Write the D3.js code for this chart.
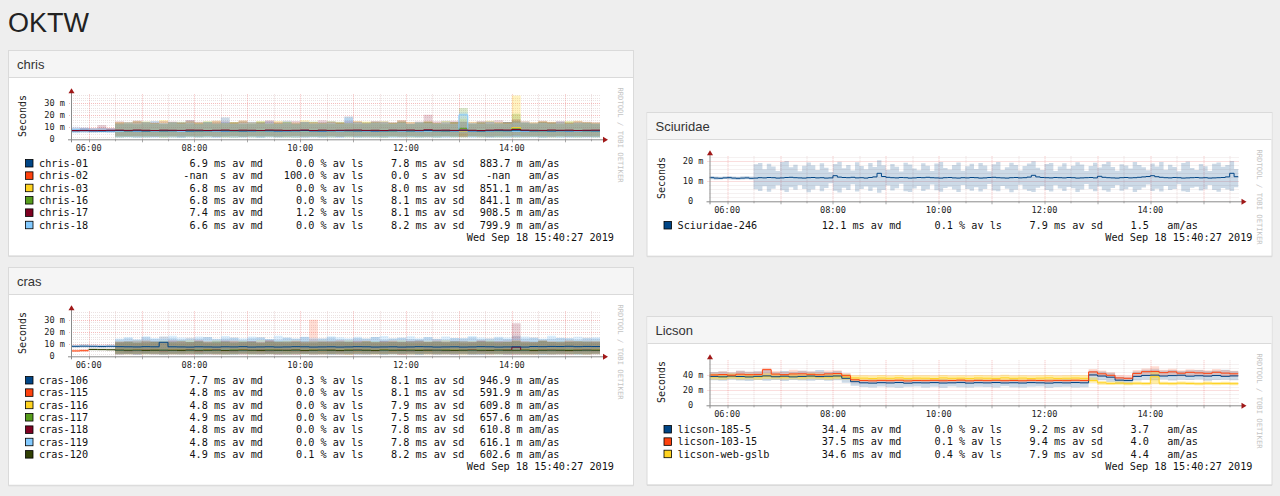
<!DOCTYPE html>
<html><head><meta charset="utf-8">
<script src="https://cdn.jsdelivr.net/npm/d3@7"></script>
<style>
html,body{margin:0;padding:0;background:#eeeeee;}
svg{display:block;}
text{font-family:"DejaVu Sans Mono",monospace;}
</style></head><body>
<svg id="c" width="1280" height="496"></svg>
<script>
// ---------------- DATA ----------------
const pageTitle = "OKTW";
const graphDate = "Wed Sep 18 15:40:27 2019";
const palette = ["#004586","#ff420e","#ffd320","#579d1c","#7e0021","#83caff","#314004"];
const xTickLabels = ["06:00","08:00","10:00","12:00","14:00"];

// chris
const chrisHosts = ["chris-01","chris-02","chris-03","chris-16","chris-17","chris-18"];
const chrisMedAvg = [6.9, NaN, 6.8, 6.8, 7.4, 6.6];
const chrisLossAvg = [0.0, 100.0, 0.0, 0.0, 1.2, 0.0];
const chrisSdAvg = [7.8, 0.0, 8.0, 8.1, 8.1, 8.2];
const chrisAmAs = [0.8837, NaN, 0.8511, 0.8411, 0.9085, 0.7999];
const chrisYTicks = [0,10,20,30];
const chrisYLabels = ["0","10 m","20 m","30 m"];

const chris01Med = [7.0,7.1,7.0,6.9,7.0, 7.2,6.9,7.0,6.8,7.1, 6.9,7.0,7.2,6.8,6.9, 7.0,7.1,6.9,7.0,6.8, 6.9,7.1,7.0,6.8,6.9, 7.0,7.2,6.9,6.8,7.0, 7.1,7.0,6.9,7.0,6.8, 6.9,7.0,7.1,6.9,7.0, 7.2,7.0,6.9,7.0,7.3, 6.9,6.8,7.0,7.1,7.0, 7.4,7.1,6.9,7.0,6.8, 7.0,6.9,7.1,7.0,6.9];
const chris01Lo = [5.5,5.8,5.6,5.7,5.5, 2.0,1.8,2.2,1.6,2.0, 1.9,2.3,1.7,2.0,1.8, 2.1,1.6,1.9,2.2,1.8, 2.0,1.7,2.1,1.9,1.6, 2.2,2.0,1.8,1.9,2.1, 1.7,2.0,1.8,2.2,1.9, 1.6,2.0,2.1,1.8,1.9, 2.0,1.7,2.2,1.9,1.8, 2.0,2.1,1.7,1.9,2.0, 1.8,2.2,1.9,1.7,2.0, 2.1,1.8,1.9,2.0,1.8];
const chris01Hi = [8.8,9.2,9.0,9.4,9.1, 13.5,12.8,14.6,13.2,15.1, 12.9,14.0,13.6,15.4,12.7, 14.2,13.8,17.8,13.1,14.5, 12.6,13.9,14.8,13.0,15.2, 13.4,14.1,12.8,13.7,15.0, 13.3,18.6,14.2,12.9,13.8, 14.6,13.1,14.9,12.7,13.6, 14.4,13.2,15.3,13.9,14.1, 12.8,13.5,14.7,13.0,14.2, 15.0,13.6,12.9,14.3,13.8, 14.5,13.1,14.0,13.4,12.9];

const chris03Med = [null,null,null,null,null, 6.9,6.7,6.8,6.6,6.9, 6.8,6.7,7.0,6.8,6.6, 6.9,6.8,6.7,6.9,6.8, 6.6,6.8,6.9,6.7,6.8, 7.0,6.8,6.6,6.9,6.7, 6.8,6.9,6.8,6.7,6.6, 6.8,6.9,7.0,6.8,6.7, 6.9,6.8,6.7,6.8,6.9, 6.7,6.8,6.6,6.9,6.8, 9.5,6.9,6.7,6.8,6.9, 6.8,6.7,6.9,6.8,6.7];
const chris03Lo = [null,null,null,null,null, 2.6,2.4,2.8,2.5,2.7, 2.3,2.6,2.9,2.4,2.5, 2.7,2.6,2.3,2.8,2.5, 2.4,2.7,2.6,2.5,2.3, 2.8,2.6,2.4,2.7,2.5, 2.6,2.3,2.8,2.5,2.4, 2.7,2.6,2.5,2.8,2.4, 2.6,2.5,2.7,2.3,2.6, 2.8,2.5,2.4,2.6,2.7, 3.5,2.6,2.5,2.7,2.4, 2.6,2.8,2.5,2.4,2.6];
const chris03Hi = [null,null,null,null,null, 14.2,13.6,15.0,14.4,13.1, 15.8,14.0,13.5,14.9,13.8, 14.6,15.2,13.4,14.1,15.5, 13.9,14.7,13.2,15.0,14.3, 13.7,15.6,14.2,13.5,14.8, 14.0,13.3,15.1,14.5,13.8, 14.9,13.6,15.4,14.2,13.9, 14.7,13.5,15.0,14.1,16.8, 14.4,13.8,15.2,14.0,13.6, 36.0,14.5,13.9,15.1,14.3, 13.7,14.8,15.3,14.0,13.8];

const chris16Med = [null,null,null,null,null, 6.8,6.9,6.7,6.8,6.6, 6.9,6.8,6.7,6.9,6.8, 6.7,6.8,6.9,6.6,6.8, 6.9,6.7,6.8,6.8,6.9, 6.7,6.8,6.6,6.9,6.8, 6.7,6.9,6.8,6.7,6.8, 6.9,6.6,6.8,6.7,6.9, 6.8,6.7,6.8,6.9,9.0, 6.8,6.7,6.9,6.8,6.7, 8.5,6.8,6.9,6.7,6.8, 6.9,6.7,6.8,6.8,6.7];
const chris16Lo = [null,null,null,null,null, 1.5,1.8,1.4,1.6,1.9, 1.3,1.7,1.5,1.8,1.4, 1.6,1.9,1.5,1.3,1.7, 1.6,1.4,1.8,1.5,1.7, 1.3,1.6,1.9,1.4,1.5, 1.8,1.6,1.4,1.7,1.5, 1.3,1.8,1.6,1.5,1.4, 1.7,1.5,1.9,1.6,1.4, 1.8,1.5,1.6,1.4,1.7, 1.5,1.6,1.8,1.4,1.5, 1.7,1.6,1.4,1.8,1.5];
const chris16Hi = [null,null,null,null,null, 12.8,13.9,12.4,14.6,13.2, 12.6,13.8,14.4,12.9,13.5, 14.8,12.7,13.3,14.1,12.5, 13.6,14.9,12.8,13.4,14.2, 12.6,13.7,14.5,13.0,12.8, 14.3,13.1,12.7,13.9,14.6, 12.9,13.5,14.0,12.6,13.8, 14.4,13.2,12.8,14.1,25.7, 13.0,14.3,12.7,13.6,14.2, 21.0,13.4,12.9,14.0,13.5, 12.8,14.6,13.1,13.7,12.9];

const chris17Med = [7.2,7.3,7.1,7.2,7.4, 7.5,7.3,7.6,7.4,7.2, 7.5,7.4,7.3,7.6,7.5, 7.2,7.4,7.6,7.3,7.5, 7.4,7.2,7.6,7.5,7.3, 7.4,7.6,7.2,7.5,7.3, 7.4,7.5,7.6,7.3,7.4, 7.2,7.5,7.4,7.6,7.3, 7.8,7.4,7.5,7.3,7.6, 7.4,7.2,7.5,7.7,7.6, 8.0,7.5,7.4,7.3,7.6, 7.4,7.5,7.2,7.4,7.5];
const chris17Lo = [6.0,6.2,5.9,6.1,6.0, 2.2,2.5,2.0,2.4,2.1, 2.6,2.3,2.0,2.5,2.2, 2.4,2.1,2.6,2.3,2.0, 2.5,2.2,2.4,2.1,2.6, 2.3,2.0,2.5,2.2,2.4, 2.1,2.6,2.3,2.0,2.5, 2.2,2.4,2.1,2.6,2.3, 2.0,2.5,2.2,2.4,2.1, 2.6,2.3,2.0,2.5,2.2, 2.4,2.1,2.6,2.3,2.0, 2.5,2.2,2.4,2.1,2.3];
const chris17Hi = [8.9,9.3,9.1,11.8,9.2, 14.8,13.9,15.5,14.2,13.6, 15.1,14.5,13.8,15.9,14.3, 13.7,15.2,14.6,13.9,15.4, 14.1,13.8,15.7,14.4,13.6, 15.0,14.3,13.9,15.6,14.2, 13.8,15.3,14.7,13.5,15.1, 14.4,13.9,15.8,14.0,14.6, 20.2,14.8,13.7,15.2,14.5, 13.9,15.0,14.3,15.6,14.1, 16.5,14.7,13.8,15.3,14.2, 14.9,13.6,15.1,14.4,13.9];

const chris18Med = [7.8,7.6,6.5,6.4,6.6, 6.5,6.7,6.4,6.6,6.5, 6.7,6.6,6.4,6.5,6.7, 6.6,6.5,6.4,6.7,6.6, 6.5,6.7,6.6,6.4,6.5, 6.6,6.7,6.5,6.4,6.6, 6.5,6.7,6.6,6.5,6.4, 6.6,6.7,6.5,6.6,6.4, 6.5,6.6,6.7,6.5,20.0, 6.4,6.6,6.5,6.7,6.6, 6.5,6.4,6.6,6.7,6.5, 6.6,6.4,6.5,6.7,6.6];
const chris18Lo = [5.0,5.3,5.5,5.6,5.4, 1.2,1.5,1.1,1.4,1.3, 1.6,1.2,1.0,1.5,1.3, 1.4,1.1,1.6,1.2,1.3, 1.5,1.1,1.4,1.2,1.6, 1.3,1.0,1.5,1.2,1.4, 1.1,1.6,1.3,1.2,1.5, 1.4,1.1,1.3,1.6,1.2, 1.5,1.3,1.1,1.4,5.0, 1.2,1.6,1.3,1.4,1.1, 1.5,1.2,1.4,1.3,1.6, 1.1,1.3,1.5,1.2,1.4];
const chris18Hi = [10.2,9.8,8.6,8.8,8.5, 12.4,13.6,12.9,14.2,12.6, 13.3,14.0,12.8,13.5,12.3, 14.1,12.7,13.9,12.5,13.2, 14.4,12.9,13.4,12.6,13.8, 12.4,14.3,13.0,12.8,13.6, 12.5,17.5,13.7,12.9,13.3, 14.0,12.6,13.5,12.8,14.2, 13.1,12.7,13.9,12.5,22.0, 13.4,12.8,14.1,13.0,12.6, 13.7,14.4,12.9,13.3,12.7, 13.8,12.5,13.6,13.1,12.8];

// cras
const crasHosts = ["cras-106","cras-115","cras-116","cras-117","cras-118","cras-119","cras-120"];
const crasMedAvg = [7.7, 4.8, 4.8, 4.9, 4.8, 4.8, 4.9];
const crasLossAvg = [0.3, 0.0, 0.0, 0.0, 0.0, 0.0, 0.1];
const crasSdAvg = [8.1, 8.1, 7.9, 7.5, 7.8, 7.8, 8.2];
const crasAmAs = [0.9469, 0.5919, 0.6098, 0.6576, 0.6108, 0.6161, 0.6026];

const cras106Med = [8.2,8.3,8.2,8.1,8.2, 7.9,7.8,7.7,7.9,7.8, 11.5,7.8,7.7,7.6,7.8, 7.7,7.6,7.8,7.7,7.9, 7.6,7.7,7.8,7.6,7.7, 7.9,7.8,7.6,7.7,7.8, 7.6,7.7,7.9,7.8,7.6, 7.7,7.8,7.6,7.7,7.9, 7.8,7.6,7.7,7.8,7.6, 7.7,7.9,7.8,7.6,7.7, 7.8,7.6,8.0,7.9,8.1, 8.0,8.2,7.9,8.1,8.0];
const cras106Lo = [7.0,7.2,7.1,6.9,7.0, 3.0,2.6,3.2,2.8,3.1, 2.7,3.0,2.9,3.3,2.6, 3.1,2.8,3.0,2.7,3.2, 2.9,3.1,2.6,3.0,2.8, 3.2,2.7,2.9,3.1,2.6, 3.0,2.8,3.2,2.7,3.1, 2.9,3.0,2.6,3.2,2.8, 3.1,2.7,3.0,2.9,3.3, 2.6,3.1,2.8,3.0,2.7, 3.2,2.9,3.1,3.0,3.4, 3.2,3.5,3.1,3.3,3.2];
const cras106Hi = [9.5,9.8,9.6,9.4,9.7, 13.8,14.9,13.5,15.6,14.2, 16.2,14.8,13.7,15.3,14.5, 15.9,13.9,14.6,15.4,13.6, 14.9,15.7,14.1,13.8,15.2, 14.4,15.8,13.9,14.7,15.5, 14.0,13.7,15.1,14.6,15.9, 13.8,14.5,15.3,14.2,13.9, 15.6,14.3,13.8,15.0,14.7, 15.4,13.9,14.8,15.2,14.1, 16.8,14.6,15.5,13.9,14.4, 15.1,14.7,13.8,15.3,14.5];

const cras115Med = [4.4,4.6,null,null,null, 4.8,4.9,4.7,4.8,4.9, 4.7,4.8,4.9,4.8,4.7, 4.9,4.8,4.7,4.8,4.9, 4.8,4.7,4.9,4.8,4.8, 4.7,4.9,4.8,4.7,4.8, 4.9,4.8,4.7,4.8,4.9, 4.8,4.7,4.8,4.9,4.8, 4.7,4.8,4.9,4.7,4.8, 4.9,4.8,4.7,4.8,4.9, 4.8,4.7,4.8,4.9,4.8, 4.7,4.8,4.9,4.8,4.7];
const cras115Lo = [3.5,3.7,null,null,null, 1.4,1.7,1.3,1.6,1.5, 1.8,1.4,1.6,1.3,1.7, 1.5,1.6,1.4,1.8,1.3, 1.6,1.5,1.7,1.4,1.6, 1.3,1.8,1.5,1.4,1.7, 1.6,1.3,1.5,1.7,1.4, 1.6,1.8,1.3,1.5,1.6, 1.4,1.7,1.5,1.3,1.6, 1.8,1.4,1.5,1.7,1.3, 1.6,1.5,1.4,1.7,1.6, 1.3,1.5,1.8,1.4,1.6];
const cras115Hi = [5.6,5.9,null,null,null, 11.8,12.6,11.2,13.1,12.0, 11.5,12.9,12.3,11.7,13.4, 12.1,11.4,12.8,13.0,11.6, 12.5,11.9,13.2,12.2,11.3, 12.7,12.0,30.0,11.8,12.6, 13.3,11.5,12.4,12.9,11.7, 12.2,13.0,11.6,12.8,12.1, 11.9,13.5,12.3,11.4,12.7, 12.0,13.1,11.8,12.5,11.6, 12.9,12.2,11.5,13.2,12.4, 11.7,12.8,12.1,13.0,11.9];

const cras116Med = [null,null,null,null,null, 4.7,4.8,4.9,4.8,4.7, 4.8,4.9,4.8,4.7,4.8, 4.9,4.7,4.8,4.8,4.9, 4.7,4.8,4.9,4.8,4.7, 4.8,4.8,4.9,4.7,4.8, 4.9,4.8,4.7,4.8,4.8, 4.9,4.7,4.8,4.9,4.8, 4.7,4.8,4.8,4.9,4.7, 4.8,4.9,4.8,4.7,4.8, 4.8,4.9,4.7,4.8,4.9, 4.8,4.7,4.8,4.8,4.9];
const cras116Lo = [null,null,null,null,null, 1.6,1.4,1.8,1.5,1.7, 1.3,1.6,1.5,1.8,1.4, 1.7,1.5,1.3,1.6,1.8, 1.4,1.5,1.7,1.6,1.3, 1.8,1.5,1.4,1.6,1.7, 1.5,1.3,1.8,1.6,1.4, 1.7,1.5,1.6,1.3,1.8, 1.4,1.6,1.5,1.7,1.3, 1.6,1.8,1.4,1.5,1.7, 1.6,1.3,1.5,1.8,1.4, 1.7,1.6,1.5,1.3,1.6];
const cras116Hi = [null,null,null,null,null, 12.4,11.6,13.0,12.2,11.8, 12.9,11.5,12.6,13.3,11.9, 12.3,13.1,11.7,12.5,12.8, 11.6,13.4,12.0,11.8,12.7, 13.0,11.5,12.4,12.9,11.7, 12.2,13.2,11.9,12.6,12.0, 11.8,12.8,13.1,11.6,12.4, 12.7,11.9,13.3,12.1,11.7, 12.6,12.0,12.9,11.5,12.3, 13.4,12.2,11.8,12.7,12.1, 11.9,13.0,12.5,11.6,12.8];

const cras117Med = [null,null,null,null,null, 4.9,5.0,4.8,4.9,5.0, 4.9,4.8,5.0,4.9,4.9, 5.0,4.8,4.9,5.0,4.9, 4.8,4.9,5.0,4.9,4.8, 5.0,4.9,4.9,4.8,5.0, 4.9,5.0,4.8,4.9,4.9, 5.0,4.9,4.8,4.9,5.0, 4.9,4.8,5.0,4.9,4.9, 4.8,5.0,4.9,4.9,5.0, 4.8,4.9,5.0,4.9,4.8, 4.9,5.0,4.9,4.8,4.9];
const cras117Lo = [null,null,null,null,null, 1.8,2.0,1.7,1.9,2.1, 1.8,1.6,2.0,1.9,1.7, 2.1,1.8,1.9,1.6,2.0, 1.7,2.1,1.8,1.9,2.0, 1.6,1.8,2.1,1.7,1.9, 2.0,1.8,1.6,2.1,1.9, 1.7,2.0,1.8,1.9,1.6, 2.1,1.7,1.9,2.0,1.8, 1.6,2.1,1.9,1.7,2.0, 1.8,1.9,1.6,2.1,1.7, 2.0,1.8,1.9,1.7,2.0];
const cras117Hi = [null,null,null,null,null, 11.2,12.0,11.6,10.9,12.4, 11.4,12.1,10.8,11.9,12.5, 11.1,11.7,12.3,10.9,11.5, 12.2,11.0,11.8,12.6,11.3, 11.9,10.8,12.1,11.6,11.2, 12.4,11.5,10.9,11.8,12.3, 11.1,12.0,11.4,12.5,10.9, 11.7,12.2,11.3,11.9,12.6, 11.0,11.6,12.4,11.2,11.8, 12.1,11.5,10.9,12.3,11.7, 11.2,12.0,11.4,12.5,11.1];

const cras118Med = [null,null,null,null,null, 4.8,4.7,4.8,4.9,4.8, 4.7,4.8,4.8,4.9,4.7, 4.8,4.9,4.8,4.7,4.8, 4.8,4.9,4.7,4.8,4.8, 4.9,4.7,4.8,4.8,4.9, 4.7,4.8,4.9,4.8,4.7, 4.8,4.8,4.9,4.7,4.8, 4.9,4.8,4.7,4.8,4.8, 4.9,4.7,4.8,4.8,4.9, 7.5,4.8,4.7,4.8,4.9, 4.8,4.7,4.8,4.9,4.8];
const cras118Lo = [null,null,null,null,null, 1.5,1.7,1.4,1.8,1.6, 1.3,1.7,1.5,1.4,1.8, 1.6,1.3,1.7,1.5,1.6, 1.8,1.4,1.6,1.3,1.7, 1.5,1.8,1.4,1.6,1.5, 1.3,1.7,1.6,1.4,1.8, 1.5,1.6,1.3,1.7,1.4, 1.8,1.5,1.6,1.4,1.7, 1.3,1.6,1.5,1.8,1.4, 1.0,1.7,1.5,1.6,1.3, 1.8,1.4,1.6,1.5,1.7];
const cras118Hi = [null,null,null,null,null, 12.1,11.5,12.8,11.9,12.4, 11.7,13.0,12.2,11.6,12.7, 12.0,11.4,12.9,12.3,11.8, 12.5,11.6,13.1,12.0,11.9, 12.6,11.5,12.2,12.8,11.7, 12.4,11.9,13.0,12.1,11.6, 12.7,12.3,11.8,12.5,13.2, 11.9,12.0,11.5,12.8,12.2, 11.7,12.6,12.4,11.9,12.9, 27.0,12.3,11.8,12.5,12.0, 11.6,12.7,12.1,11.9,12.4];

const cras119Med = [null,null,null,null,null, 4.8,4.9,4.7,4.8,4.8, 4.9,4.7,4.8,4.8,4.9, 4.7,4.8,4.9,4.8,4.7, 4.8,4.8,4.9,4.7,4.8, 4.8,4.9,4.7,4.8,4.8, 4.9,4.7,4.8,4.8,4.9, 4.7,4.8,4.8,4.9,4.7, 4.8,4.9,4.8,4.7,4.8, 4.8,4.9,4.7,4.8,4.8, 4.9,4.7,4.8,4.8,4.9, 4.7,4.8,4.8,4.9,4.7];
const cras119Lo = [null,null,null,null,null, 1.2,1.4,1.1,1.5,1.3, 1.0,1.4,1.2,1.5,1.1, 1.3,1.4,1.0,1.2,1.5, 1.3,1.1,1.4,1.2,1.0, 1.5,1.3,1.2,1.4,1.1, 1.3,1.5,1.0,1.2,1.4, 1.1,1.3,1.5,1.2,1.0, 1.4,1.2,1.3,1.1,1.5, 1.2,1.0,1.4,1.3,1.1, 1.5,1.2,1.4,1.0,1.3, 1.2,1.4,1.1,1.3,1.5];
const cras119Hi = [null,null,null,null,null, 14.6,15.8,13.9,16.4,15.1, 14.3,16.9,15.5,14.0,16.2, 15.7,14.4,16.6,15.0,14.8, 16.3,15.2,14.1,16.8,15.4, 14.6,16.0,15.3,14.2,16.5, 15.6,14.9,16.1,14.3,15.8, 16.7,14.5,15.2,16.4,14.8, 15.9,14.2,16.3,15.1,14.7, 16.6,15.4,14.0,16.0,15.5, 14.4,16.2,15.0,14.6,16.9, 15.3,14.8,16.1,14.5,15.7];

const cras120Med = [null,null,5.6,5.5,5.4, 5.0,4.9,5.0,4.8,4.9, 5.0,4.9,4.8,5.0,4.9, 4.9,5.0,4.8,4.9,5.0, 4.9,4.8,5.0,4.9,4.9, 5.0,4.8,4.9,5.0,4.9, 4.8,4.9,5.0,4.9,4.8, 5.0,4.9,4.9,5.0,4.8, 4.9,5.0,4.9,4.8,4.9, 5.0,4.9,4.8,5.0,4.9, 4.9,5.0,4.8,4.9,5.0, 4.9,4.8,4.9,5.0,4.9];
const cras120Lo = [null,null,4.6,4.5,4.4, 1.7,1.9,1.6,2.0,1.8, 1.5,1.9,1.7,2.0,1.6, 1.8,1.9,1.5,1.7,2.0, 1.6,1.8,1.9,1.7,1.5, 2.0,1.8,1.6,1.9,1.7, 1.8,1.5,2.0,1.6,1.9, 1.7,1.8,1.6,2.0,1.5, 1.9,1.7,1.8,1.6,2.0, 1.7,1.5,1.9,1.8,1.6, 2.0,1.7,1.9,1.5,1.8, 1.6,1.9,1.7,1.8,2.0];
const cras120Hi = [null,null,6.8,6.6,6.7, 11.6,12.3,11.0,12.7,11.8, 12.1,11.4,12.9,11.7,12.2, 11.3,12.6,11.9,11.5,12.4, 12.0,11.2,12.8,11.6,12.3, 11.8,12.5,11.1,12.0,12.7, 11.5,12.2,11.9,12.6,11.3, 12.4,11.7,12.1,11.4,12.8, 11.6,12.3,11.9,12.5,11.2, 12.0,12.7,11.5,12.2,11.8, 12.6,11.4,12.1,12.9,11.7, 12.3,11.8,12.5,11.6,12.0];

// Sciuridae (5 minute steps)
const sciHosts = ["Sciuridae-246"];
const sciMedAvg = [12.1];
const sciLossAvg = [0.1];
const sciSdAvg = [7.9];
const sciAmAs = [1.5];
const sciYTicks = [0,10,20];
const sciYLabels = ["0","10 m","20 m"];
const sciMed = [11.8,11.6,11.5,11.7,11.8,11.6,11.5,11.6,11.7,11.5, 11.6,11.8,11.7,11.9,11.8,11.6,11.7,11.9,12.0,11.8, 11.7,11.6,11.8,11.9,11.7,11.8,11.6,11.7,12.8,12.1, 11.9,11.8,12.0,11.7,11.8,11.6,11.9,12.2,14.0,12.4, 12.0,11.8,11.7,11.9,11.8,11.6,11.7,11.9,11.8,12.0, 11.8,11.7,11.6,11.8,11.9,11.7,11.6,11.8,11.7,11.9, 11.8,11.6,11.7,11.9,12.0,11.8,11.7,11.6,11.8,11.9, 11.7,11.8,12.1,13.0,12.2,11.9,11.8,11.7,11.9,11.8, 11.7,11.9,11.8,11.6,11.7,11.8,11.9,11.7,12.5,12.0, 11.8,11.7,11.6,11.8,11.9,11.7,11.8,12.0,12.2,12.4, 12.8,12.3,12.0,11.8,11.7,11.9,11.8,11.6,11.7,11.8, 11.9,11.7,11.8,11.6,11.7,11.8,11.9,12.2,14.0,12.3];
const sciLo = [11.0,10.8,10.9,11.1,10.9,10.8,10.7,10.9,11.0,10.8, 6.0,5.2,7.5,4.8,6.3,8.0,5.5,4.6,7.0,5.8, 8.2,6.1,4.5,5.9,7.8,5.0,6.6,9.0,5.3,4.4, 6.8,5.6,8.5,4.9,6.2,7.4,5.1,6.9,4.3,5.7, 7.9,5.4,6.5,8.8,5.0,4.7,6.4,7.6,5.2,6.0, 8.4,5.5,4.8,6.7,7.3,5.9,4.6,8.1,6.2,5.3, 7.0,4.9,6.1,8.6,5.4,5.0,7.7,6.3,4.5,5.8, 8.3,6.0,5.1,4.7,6.8,7.5,5.6,4.9,8.0,6.4, 5.2,7.2,6.5,4.6,5.9,8.7,6.1,5.0,7.4,5.5, 4.8,6.6,8.2,5.3,6.0,7.1,4.7,5.8,6.9,8.4, 5.1,6.3,4.9,7.6,5.7,6.2,8.5,5.0,4.6,6.8, 7.3,5.4,6.0,8.1,5.6,4.8,6.7,5.9,5.2,7.0];
const sciHi = [12.6,12.4,12.3,12.5,12.7,12.4,12.3,12.5,12.6,12.4, 18.5,19.2,16.0,18.8,17.4,15.2,19.6,20.1,17.0,18.3, 15.0,17.8,19.4,18.0,15.6,19.0,16.8,14.6,18.6,19.8, 16.5,18.2,15.4,19.5,17.6,16.0,19.1,17.2,20.5,18.0, 15.8,18.7,17.3,14.9,19.3,18.4,16.4,15.5,19.0,17.8, 15.1,18.9,19.7,16.6,15.9,18.1,19.4,15.3,17.5,18.8, 16.2,19.1,17.9,15.0,18.5,19.6,15.7,17.0,19.3,18.2, 15.4,17.7,18.9,20.0,16.8,15.6,18.6,19.2,15.2,17.4, 19.0,16.3,17.8,19.5,18.4,15.1,17.6,19.3,16.9,18.7, 19.8,17.1,15.3,18.5,17.9,16.4,19.6,18.2,17.0,15.5, 18.9,17.4,19.7,15.8,18.3,17.2,15.0,19.1,19.9,16.6, 15.7,18.6,17.5,15.2,18.8,19.4,17.3,18.1,20.2,16.2];

// Licson
const licHosts = ["licson-185-5","licson-103-15","licson-web-gslb"];
const licMedAvg = [34.4, 37.5, 34.6];
const licLossAvg = [0.0, 0.1, 0.4];
const licSdAvg = [9.2, 9.4, 7.9];
const licAmAs = [3.7, 4.0, 4.4];
const licYTicks = [0,20,40];
const licYLabels = ["0","20 m","40 m"];
const lic185Med = [38.5,38.0,39.0,38.4,37.8, 38.6,39.2,38.1,38.8,37.9, 38.5,39.0,38.3,38.7,39.1, 36.0,31.5,30.0,29.6,30.2, 29.8,30.4,29.5,30.1,29.9, 30.3,29.7,30.0,30.5,29.6, 30.2,29.9,30.4,29.8,30.1, 29.7,30.3,30.0,29.6,30.2, 29.9,30.4,30.0,40.5,39.0, 37.5,33.5,33.0,38.5,39.8, 40.2,39.0,39.6,40.1,38.8, 39.4,38.9,39.7,38.6,39.2];
const lic185Lo = [33.5,32.8,34.0,33.2,32.5, 33.8,32.9,33.6,32.4,33.9, 33.1,32.6,33.7,32.8,33.4, 30.0,26.0,24.5,23.8,25.0, 24.2,23.5,24.8,25.2,23.9, 24.6,23.4,25.1,24.0,23.7, 24.9,24.3,23.6,25.3,24.1, 23.8,24.7,25.0,23.5,24.4, 24.9,23.7,24.2,34.0,33.5, 31.0,28.5,28.0,33.0,34.2, 33.4,34.5,33.0,34.1,33.6, 34.3,32.9,33.8,34.0,33.3];
const lic185Hi = [44.5,45.2,43.8,46.0,44.9, 45.5,47.5,44.2,45.8,44.6, 46.2,45.0,47.0,44.4,45.6, 42.0,35.5,33.8,34.5,33.2, 34.0,33.6,34.8,33.4,34.2, 33.9,34.6,33.1,34.3,33.7, 34.5,33.3,34.1,33.8,34.7, 33.5,34.0,33.2,34.4,33.9, 34.6,33.6,34.2,46.0,45.2, 43.5,38.0,37.5,45.0,47.5, 48.0,46.4,47.2,45.6,46.8, 47.0,45.9,46.5,47.3,45.8];
const lic103Med = [40.5,41.0,40.2,41.5,40.8, 41.2,47.5,41.6,40.9,41.8, 42.0,41.3,40.7,41.9,42.3, 39.5,34.0,33.0,32.6,33.2, 32.8,33.4,32.5,33.1,32.9, 33.3,32.7,33.0,33.5,32.6, 33.2,32.9,33.4,32.8,33.1, 32.7,33.3,33.0,32.6,33.2, 32.9,33.4,33.0,44.5,42.0, 40.0,36.5,36.0,42.5,44.8, 45.2,43.5,44.6,42.8,44.0, 43.2,42.6,44.1,42.9,42.0];
const lic103Lo = [37.0,37.5,36.8,37.9,37.2, 37.6,38.0,37.3,36.9,37.8, 38.1,37.4,36.7,37.9,38.2, 35.0,30.5,29.8,29.5,30.1, 29.7,30.3,29.4,30.0,29.8, 30.2,29.6,29.9,30.4,29.5, 30.1,29.8,30.3,29.7,30.0, 29.6,30.2,29.9,29.5,30.1, 29.8,30.3,29.9,39.5,38.0, 36.0,33.0,32.5,38.5,40.0, 40.5,39.2,40.1,38.6,39.7, 39.0,38.4,39.8,38.7,38.0];
const lic103Hi = [44.0,45.5,44.2,46.0,44.8, 45.2,50.0,45.6,44.9,47.5, 46.2,45.1,44.6,46.5,46.8, 43.0,37.0,35.8,35.5,36.2, 35.7,36.4,35.4,36.0,35.9, 36.3,35.6,35.9,36.5,35.5, 36.1,35.8,36.4,35.7,36.0, 35.6,36.2,35.9,35.5,36.1, 35.8,36.4,36.0,48.5,46.5, 44.0,40.0,39.5,47.0,49.0, 52.0,47.5,48.8,46.9,48.2, 47.4,46.7,48.3,47.0,46.2];
const licGslbMed = [38.0,37.6,38.4,37.9,38.2, 37.7,38.5,38.1,37.8,38.3, 37.9,38.6,38.0,37.7,38.2, 37.5,36.5,36.2,35.8,36.4, 36.0,36.6,35.9,36.3,36.1, 35.7,36.5,36.0,36.2,35.8, 36.4,36.1,35.9,36.6,36.0, 36.3,35.8,36.2,36.5,35.9, 36.1,36.4,36.0,33.0,30.0, 29.2,29.6,28.8,29.4,29.0, 38.0,29.3,28.9,29.5,29.1, 28.7,29.4,29.0,29.2,28.8];
const licGslbLo = [34.5,34.0,35.0,34.4,34.8, 34.2,35.1,34.6,34.3,34.9, 34.5,35.2,34.7,34.1,34.8, 34.0,33.2,33.0,32.8,33.3, 33.0,33.5,32.9,33.2,33.1, 32.7,33.4,33.0,33.2,32.8, 33.3,33.1,32.9,33.5,33.0, 33.2,32.8,33.1,33.4,32.9, 33.0,33.3,33.0,30.0,27.5, 27.0,27.4,26.8,27.2,26.9, 28.0,27.1,26.7,27.3,27.0, 26.6,27.2,26.9,27.1,26.7];
const licGslbHi = [42.0,41.6,42.5,41.8,42.2, 41.5,42.8,42.0,41.7,42.4, 41.9,42.6,42.1,41.6,42.3, 41.5,40.2,40.0,39.6,40.3, 39.9,40.5,39.7,40.2,40.0, 39.6,40.4,39.9,40.1,39.7, 40.3,40.0,39.8,40.6,39.9, 40.2,39.7,40.1,40.4,39.8, 40.0,40.3,40.0,37.0,32.5, 31.4,31.8,31.0,31.6,31.2, 45.0,31.5,31.1,31.7,31.3, 30.9,31.6,31.2,31.4,31.0];

// ---------------- DRAW ----------------
const START = new Date(2019,8,18,5,40,0);
const END = new Date(2019,8,18,15,40,0);
const svg = d3.select("#c");

svg.append("text").attr("x",8).attr("y",31.5).text(pageTitle)
  .style("font-family","'Liberation Sans',Arial,sans-serif").style("font-size","27px").attr("fill","#222");

function fmtMs(v){ if (isNaN(v)) return "-nan  s"; if (v===0) return "0.0  s"; return v.toFixed(1)+" ms"; }
function fmtAmAs(v){ if (isNaN(v)) return "-nan   am/as"; if (v<1) return (v*1000).toFixed(1)+" m am/as"; return v.toFixed(1)+"   am/as"; }

function stepPoints(lo, hi, stepMin){
  const pts = [];
  for (let i=0;i<hi.length;i++){
    if (hi[i]==null){ pts.push(null); continue; }
    const t0 = new Date(+START + i*stepMin*60000), t1 = new Date(+START + (i+1)*stepMin*60000);
    pts.push({t:t0, lo:lo[i], hi:hi[i]}, {t:t1, lo:lo[i], hi:hi[i]});
  }
  return pts;
}

let clipId = 0;
function drawPanel(p){
  const g = svg.append("g").attr("transform",`translate(${p.x},${p.y})`);
  const n = p.hosts.length;
  const rowY = i => 113.3 + i*12.35;
  const dateY = rowY(n);
  const H = dateY + 19, W = 626;
  g.append("rect").attr("x",0.5).attr("y",1.5).attr("width",W-1).attr("height",H-1).attr("fill","#d8d8d8");
  g.append("rect").attr("x",0.5).attr("y",0.5).attr("width",W-1).attr("height",H-1).attr("fill","#fff").attr("stroke","#dadada");
  g.append("rect").attr("x",1).attr("y",1).attr("width",W-2).attr("height",26.5).attr("fill","#f5f5f5");
  g.append("line").attr("x1",1).attr("x2",W-1).attr("y1",27.5).attr("y2",27.5).attr("stroke","#dadada");
  g.append("text").attr("x",9).attr("y",18.5).text(p.title)
    .style("font-family","'Liberation Sans',Arial,sans-serif").style("font-size","13px").attr("fill","#333");

  const L=63, R=592, Y0=89.3, T=44.3;
  const x = d3.scaleTime().domain([START,END]).range([L,R]);
  const y = d3.scaleLinear().domain([0,p.yMax]).range([Y0,T]);

  // grid
  const grid = g.append("g");
  d3.range(p.minor, p.yMax, p.minor).filter(v => !p.yTicks.includes(v)).forEach(v=>{
    grid.append("line").attr("x1",L).attr("x2",R).attr("y1",Math.round(y(v))+0.5).attr("y2",Math.round(y(v))+0.5)
      .attr("stroke","rgba(190,160,160,0.3)").attr("stroke-dasharray","1,1");
  });
  d3.timeMinute.every(30).range(START, END).forEach(t=>{
    const major = t.getMinutes()===0;
    const xx = Math.round(x(t))+0.5;
    grid.append("line").attr("x1",xx).attr("x2",xx).attr("y1",T).attr("y2",Y0)
      .attr("stroke", major ? "rgba(230,90,90,0.4)" : "rgba(200,150,150,0.35)").attr("stroke-dasharray","1,1");
    grid.append("line").attr("x1",xx).attr("x2",xx).attr("y1",Y0).attr("y2",Y0+(major?3:2)).attr("stroke","#aaa");
  });
  p.yTicks.filter(v=>v>0).forEach(v=>{
    grid.append("line").attr("x1",L-2).attr("x2",R).attr("y1",Math.round(y(v))+0.5).attr("y2",Math.round(y(v))+0.5)
      .attr("stroke","rgba(230,90,90,0.4)").attr("stroke-dasharray","1,1");
  });

  // data
  const cid = "clip"+(clipId++);
  g.append("clipPath").attr("id",cid).append("rect").attr("x",L).attr("y",T).attr("width",R-L).attr("height",Y0-T);
  const dg = g.append("g").attr("clip-path",`url(#${cid})`);
  const area = d3.area().defined(d=>d!=null).x(d=>x(d.t)).y0(d=>y(d.lo)).y1(d=>y(d.hi));
  const line = d3.line().defined(d=>d!=null).x(d=>x(d.t)).y(d=>y(d.hi));
  p.series.forEach((s,i)=>{
    if (!s) return;
    dg.append("path").attr("d", area(stepPoints(s[0], s[2], p.step)))
      .attr("fill", p.colors[i]).attr("fill-opacity", p.smokeOpacity[i]);
  });
  p.lineOrder.forEach(i=>{
    const s = p.series[i];
    if (!s) return;
    dg.append("path").attr("d", line(stepPoints(s[1], s[1], p.step)))
      .attr("fill","none").attr("stroke", p.colors[i]).attr("stroke-width",1);
  });

  // axes
  g.append("line").attr("x1",L-3).attr("x2",R+4).attr("y1",Y0+0.5).attr("y2",Y0+0.5).attr("stroke","#8a8a8a");
  g.append("line").attr("x1",L+0.5).attr("x2",L+0.5).attr("y1",Y0+3).attr("y2",T-2).attr("stroke","#8a8a8a");
  g.append("path").attr("d",`M${R+3},${Y0-2.5}L${R+8},${Y0+0.5}L${R+3},${Y0+3.5}Z`).attr("fill","#a01818");
  g.append("path").attr("d",`M${L-2.5},${T-1}L${L+0.5},${T-6}L${L+3.5},${T-1}Z`).attr("fill","#a01818");

  // y labels
  const cw8 = 8.6*0.602;
  p.yTicks.forEach((v,i)=>{
    const lab = p.yLabels[i];
    g.append("text").attr("x", lab.includes(" ") ? 57 : 57-2*cw8).attr("y", y(v)+3)
      .attr("text-anchor","end").style("font-size","8.6px").attr("fill","#222").text(lab);
  });
  // x labels
  xTickLabels.forEach(lab=>{
    const [hh,mm] = lab.split(":").map(Number);
    const t = new Date(2019,8,18,hh,mm);
    g.append("text").attr("x", x(t)).attr("y",101.3).attr("text-anchor","middle")
      .style("font-size","8.6px").attr("fill","#222").text(lab);
  });
  g.append("text").attr("transform","translate(18,66) rotate(-90)").attr("text-anchor","middle")
    .style("font-size","10px").attr("fill","#222").text("Seconds");
  g.append("text").attr("transform","translate(610,85) rotate(90)").attr("text-anchor","middle")
    .style("font-size","7.2px").attr("fill","#c4c4c4").text("RRDTOOL / TOBI OETIKER");

  // legend
  p.hosts.forEach((h,i)=>{
    const cy = rowY(i);
    g.append("rect").attr("x",17.5).attr("y",cy-3.8).attr("width",7.5).attr("height",7.5)
      .attr("fill",p.colors[i]).attr("stroke","#000").attr("stroke-width",0.8);
    const row = [[31,"start",h],[255,"end",fmtMs(p.med[i])+" av md"],[355.5,"end",p.loss[i].toFixed(1)+" % av ls"],
                 [456.5,"end",fmtMs(p.sd[i])+" av sd"],[551.5,"end",fmtAmAs(p.amas[i])]];
    row.forEach(([xx,anchor,txt])=>{
      g.append("text").attr("x",xx).attr("y",cy+3.7).attr("text-anchor",anchor)
        .style("font-size","10.2px").style("white-space","pre").attr("xml:space","preserve").attr("fill","#111").text(txt);
    });
  });
  g.append("text").attr("x",606).attr("y",dateY+3.7).attr("text-anchor","end")
    .style("font-size","10.2px").attr("fill","#111").text(graphDate);
}

const chrisColors = palette.slice(0,6);
const crasColors = palette.slice(0,7);

drawPanel({title:"chris", x:8, y:50, hosts:chrisHosts, colors:chrisColors, med:chrisMedAvg, loss:chrisLossAvg, sd:chrisSdAvg, amas:chrisAmAs,
  series:[[chris01Lo,chris01Med,chris01Hi], null, [chris03Lo,chris03Med,chris03Hi],[chris16Lo,chris16Med,chris16Hi],[chris17Lo,chris17Med,chris17Hi],[chris18Lo,chris18Med,chris18Hi]],
  lineOrder:[2,3,5,0,4], step:10, yMax:36.9, yTicks:chrisYTicks, yLabels:chrisYLabels, minor:2, smokeOpacity:[0.2,0.2,0.28,0.22,0.18,0.28]});

drawPanel({title:"cras", x:8, y:267, hosts:crasHosts, colors:crasColors, med:crasMedAvg, loss:crasLossAvg, sd:crasSdAvg, amas:crasAmAs,
  series:[[cras106Lo,cras106Med,cras106Hi],[cras115Lo,cras115Med,cras115Hi],[cras116Lo,cras116Med,cras116Hi],[cras117Lo,cras117Med,cras117Hi],[cras118Lo,cras118Med,cras118Hi],[cras119Lo,cras119Med,cras119Hi],[cras120Lo,cras120Med,cras120Hi]],
  lineOrder:[1,2,3,4,5,6,0], step:10, yMax:36.9, yTicks:chrisYTicks, yLabels:chrisYLabels, minor:2, smokeOpacity:[0.18,0.18,0.22,0.2,0.18,0.28,0.15]});

drawPanel({title:"Sciuridae", x:646.5, y:112, hosts:sciHosts, colors:[palette[0]], med:sciMedAvg, loss:sciLossAvg, sd:sciSdAvg, amas:sciAmAs,
  series:[[sciLo,sciMed,sciHi]], lineOrder:[0], step:5, yMax:22.5, yTicks:sciYTicks, yLabels:sciYLabels, minor:2, smokeOpacity:[0.2]});

drawPanel({title:"Licson", x:646.5, y:316, hosts:licHosts, colors:palette.slice(0,3), med:licMedAvg, loss:licLossAvg, sd:licSdAvg, amas:licAmAs,
  series:[[lic185Lo,lic185Med,lic185Hi],[lic103Lo,lic103Med,lic103Hi],[licGslbLo,licGslbMed,licGslbHi]],
  lineOrder:[2,0,1], step:10, yMax:60, yTicks:licYTicks, yLabels:licYLabels, minor:5, smokeOpacity:[0.2,0.18,0.4]});
</script>
</body></html>
